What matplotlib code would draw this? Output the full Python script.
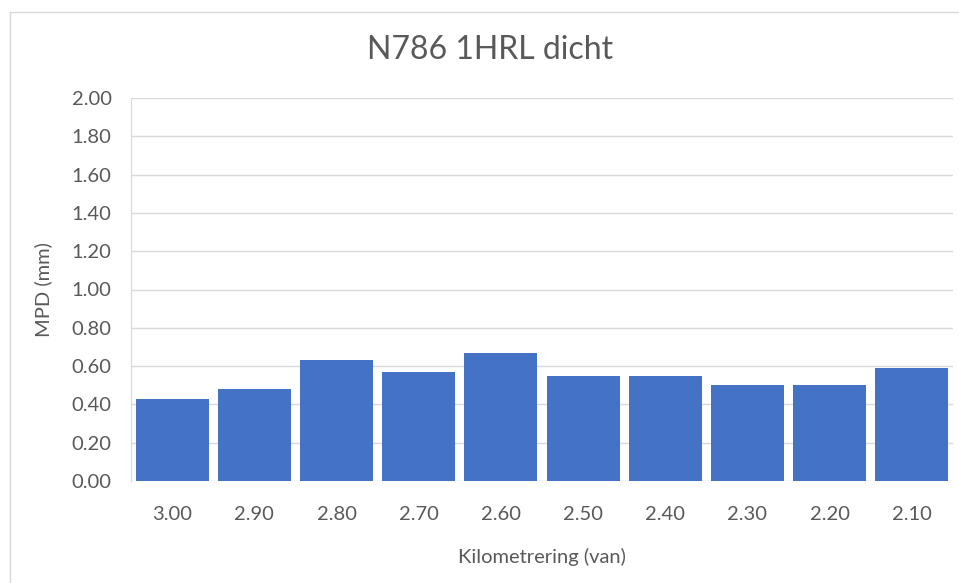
import matplotlib.pyplot as plt
from matplotlib.lines import Line2D

plt.rcParams["font.family"] = ["Lato", "DejaVu Sans"]

km_labels = ["3.00", "2.90", "2.80", "2.70", "2.60", "2.50", "2.40", "2.30", "2.20", "2.10"]
mpd = [0.43, 0.48, 0.63, 0.57, 0.67, 0.55, 0.55, 0.50, 0.50, 0.59]
y_ticks = [0.0, 0.2, 0.4, 0.6, 0.8, 1.0, 1.2, 1.4, 1.6, 1.8, 2.0]

BAR = "#4472c4"
GRID = "#d9d9d9"
TXT = "#595959"

fig = plt.figure(figsize=(9.59, 5.83), dpi=100)
fig.patch.set_facecolor("white")
ax = fig.add_axes([131 / 959, 1 - 481 / 583, (953 - 131) / 959, (481 - 98) / 583])

x = range(len(km_labels))
ax.bar(x, mpd, width=0.89, color=BAR, zorder=3)

ax.set_xlim(-0.5, len(km_labels) - 0.5)
ax.set_ylim(0, 2.0)
ax.set_yticks(y_ticks)
ax.set_yticklabels([f"{v:.2f}" for v in y_ticks])
ax.set_xticks(list(x))
ax.set_xticklabels(km_labels)
ax.grid(axis="y", color=GRID, lw=1, zorder=0)
ax.tick_params(axis="both", length=0, labelsize=14.5, colors=TXT)
ax.tick_params(axis="x", pad=18)
ax.tick_params(axis="y", pad=14)
for side in ["top", "right", "bottom"]:
    ax.spines[side].set_visible(False)
ax.spines["left"].set_color(GRID)

ax.set_ylabel("MPD (mm)", fontsize=14.5, color=TXT, labelpad=14)
ax.set_xlabel("Kilometrering (van)", fontsize=14.5, color=TXT, labelpad=18)
fig.text(490 / 959, 1 - 50 / 583, "N786 1HRL dicht", fontsize=23, color=TXT,
         ha="center", va="center")

# chart area border (only left and top visible in the crop)
fig.add_artist(Line2D([10 / 959, 10 / 959], [0, 1 - 12 / 583],
                      transform=fig.transFigure, color=GRID, lw=1))
fig.add_artist(Line2D([10 / 959, 1], [1 - 12 / 583, 1 - 12 / 583],
                      transform=fig.transFigure, color=GRID, lw=1))

fig.savefig("out.png", dpi=100)
